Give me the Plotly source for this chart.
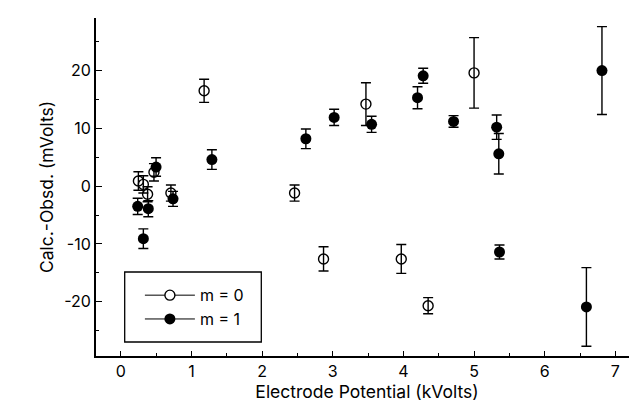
import plotly.graph_objects as go

# m = 0 (open circles)
x_m0 = [0.25, 0.32, 0.38, 0.47, 0.71, 1.18, 2.46, 2.87, 3.47, 3.97, 4.35, 5.00]
y_m0 = [0.9, 0.3, -1.4, 2.4, -1.2, 16.5, -1.2, -12.6, 14.2, -12.6, -20.7, 19.6]
e_m0 = [1.6, 1.5, 1.3, 1.5, 1.4, 2.0, 1.4, 2.1, 3.7, 2.5, 1.4, 6.1]

# m = 1 (filled circles)
x_m1 = [0.24, 0.32, 0.39, 0.50, 0.74, 1.29, 2.62, 3.02, 3.55, 4.20, 4.28, 4.71, 5.32, 5.35, 5.36, 6.59, 6.81]
y_m1 = [-3.5, -9.1, -3.9, 3.3, -2.2, 4.6, 8.2, 11.9, 10.7, 15.3, 19.1, 11.2, 10.2, 5.6, -11.4, -20.9, 20.0]
e_m1 = [1.4, 1.7, 1.4, 1.6, 1.3, 1.7, 1.7, 1.4, 1.4, 1.9, 1.3, 1.0, 2.1, 3.5, 1.2, 6.8, 7.6]

x_ticks = [0, 1, 2, 3, 4, 5, 6, 7]
y_ticks = [-20, -10, 0, 10, 20]

FONT = "Inter, Liberation Sans, Arial, sans-serif"

fig = go.Figure()
err_style = dict(type="data", visible=True, color="black", thickness=1.4, width=5)

fig.add_trace(go.Scatter(
    x=x_m0, y=y_m0, mode="markers", showlegend=False,
    error_y=dict(array=e_m0, **err_style),
    marker=dict(symbol="circle-open", size=10, color="black", line=dict(width=1.4, color="black")),
))
fig.add_trace(go.Scatter(
    x=x_m1, y=y_m1, mode="markers", showlegend=False,
    error_y=dict(array=e_m1, **err_style),
    marker=dict(symbol="circle", size=11, color="black"),
))
# legend entries
fig.add_trace(go.Scatter(
    x=[None], y=[None], mode="lines+markers", name="m = 0",
    line=dict(color="black", width=1),
    marker=dict(symbol="circle", size=10, color="white", line=dict(width=1.4, color="black")),
))
fig.add_trace(go.Scatter(
    x=[None], y=[None], mode="lines+markers", name="m = 1",
    line=dict(color="black", width=1),
    marker=dict(symbol="circle", size=11, color="black"),
))

fig.update_layout(
    width=637, height=403,
    margin=dict(l=88, r=7, t=10, b=55),
    paper_bgcolor="white", plot_bgcolor="white",
    font=dict(family=FONT, size=16, color="black"),
    showlegend=True,
    legend=dict(
        x=0.081, y=0.23, xanchor="left", yanchor="top",
        bgcolor="rgba(0,0,0,0)", borderwidth=0,
        font=dict(size=16, color="black"), itemwidth=50, tracegroupgap=0,
    ),
    shapes=[dict(type="rect", xref="paper", yref="paper",
                 x0=(116.7 - 88) / 542, x1=(253.3 - 88) / 542,
                 y0=(348 - 334) / 338, y1=(348 - 264) / 338,
                 line=dict(color="black", width=1.3))],
)
fig.update_xaxes(
    range=[-0.35, 7.32], tickvals=x_ticks, ticktext=[str(v) for v in x_ticks],
    ticks="inside", ticklen=5, tickwidth=1, tickcolor="black",
    minor=dict(dtick=0.5, tick0=0, ticks="inside", ticklen=3, tickcolor="black"),
    showline=True, linecolor="black", linewidth=2, showgrid=False, zeroline=False,
    title=dict(text="Electrode Potential (kVolts)", font=dict(size=17.5, color="black"), standoff=2),
    tickfont=dict(size=16, color="black"),
)
fig.update_yaxes(
    range=[-29.4, 29.1], tickvals=y_ticks, ticktext=[str(v) for v in y_ticks],
    ticks="inside", ticklen=6, tickwidth=1, tickcolor="black",
    minor=dict(dtick=5, tick0=0, ticks="inside", ticklen=3, tickcolor="black"),
    showline=True, linecolor="black", linewidth=2, showgrid=False, zeroline=False,
    title=dict(text="Calc.-Obsd. (mVolts)", font=dict(size=17.5, color="black"), standoff=6),
    tickfont=dict(size=16, color="black"),
)

fig.write_html("out.html")
